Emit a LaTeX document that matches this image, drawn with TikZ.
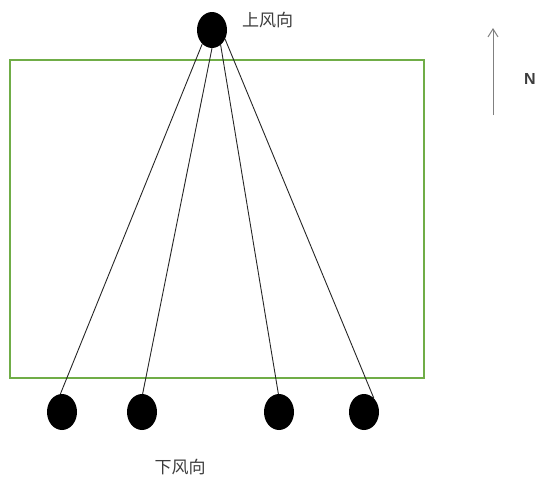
\documentclass[tikz,border=0pt]{standalone}
\usepackage{fontspec}
\setmainfont{Liberation Sans}
\newfontfamily\cjk{Noto Sans CJK SC}
\usetikzlibrary{shapes.geometric,arrows.meta}
\definecolor{boxgreen}{RGB}{112,173,71}
\definecolor{txtgray}{RGB}{60,60,60}
\definecolor{arrgray}{RGB}{128,128,128}
\begin{document}
\begin{tikzpicture}[x=1pt,y=-1pt,
  dot/.style={ellipse,fill=black,minimum width=30pt,minimum height=36pt,inner sep=0pt},
  wire/.style={draw=black!85,line width=0.9pt},
  lbl/.style={font=\cjk\fontsize{17}{17}\selectfont,text=txtgray,inner sep=0pt}]
\useasboundingbox (0,0) rectangle (536,483);
\draw[boxgreen,line width=1.8pt] (10,60) rectangle (424,378);
\node[dot] (top) at (212,30) {};
\node[dot] (b1) at (62,412) {};
\node[dot] (b2) at (142,412) {};
\node[dot] (b3) at (279,412) {};
\node[dot] (b4) at (364,412) {};
\draw[wire] (top.235) -- (b1.95);
\draw[wire] (top.270) -- (b2.88);
\draw[wire] (top.300) -- (b3.92);
\draw[wire] (top.325) -- (b4.55);
\node[lbl] (up) at (267.5,20) {上风向};
\node[lbl] (down) at (180,467) {下风向};
\coordinate (ntail) at (493,115);
\coordinate (nhead) at (493,28);
\draw[arrgray,line width=1pt,-{Straight Barb[length=8pt,width=10pt]}] (ntail) -- (nhead);
\node[font=\bfseries\fontsize{16}{16}\selectfont,text=txtgray,inner sep=0pt] (N) at (530,79) {N};
\end{tikzpicture}
\end{document}
